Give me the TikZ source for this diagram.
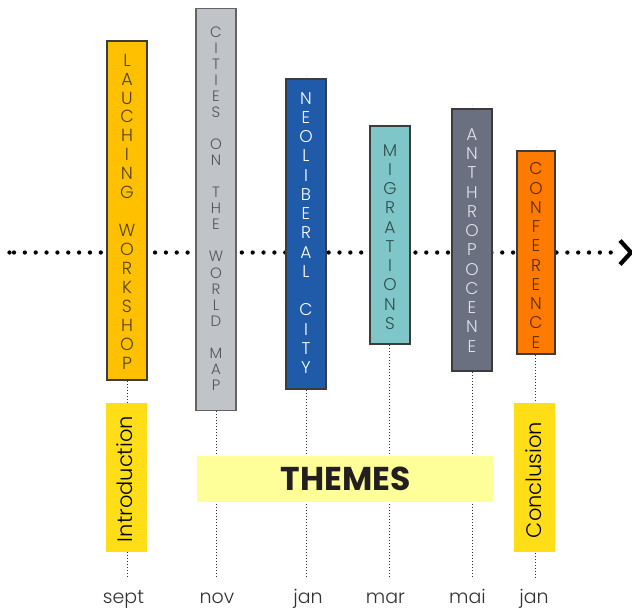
\documentclass[tikz,border=0pt]{standalone}
\usepackage{fontspec}
\setmainfont{Poppins}
\IfFontExistsTF{Poppins-Light.otf}{\newfontfamily\lightfont{Poppins-Light.otf}}{%
  \IfFontExistsTF{Poppins-Light.ttf}{\newfontfamily\lightfont{Poppins-Light.ttf}}{\newfontfamily\lightfont{Poppins}}}
\definecolor{cLaunch}{RGB}{255,192,0}
\definecolor{cCities}{RGB}{192,196,200}
\definecolor{cNeo}{RGB}{31,91,168}
\definecolor{cMigr}{RGB}{127,198,200}
\definecolor{cAnthro}{RGB}{106,112,128}
\definecolor{cConf}{RGB}{255,123,0}
\definecolor{cBox}{RGB}{255,221,23}
\definecolor{cThemes}{RGB}{255,255,153}
\definecolor{cBorder}{RGB}{60,60,60}
\definecolor{tLaunch}{RGB}{80,66,22}
\definecolor{tCities}{RGB}{85,85,85}
\definecolor{tMigr}{RGB}{46,78,80}
\definecolor{tAnthro}{RGB}{224,226,230}
\definecolor{tConf}{RGB}{92,40,0}
\definecolor{tLabel}{RGB}{50,50,50}
\definecolor{tThemes}{RGB}{35,31,32}
\begin{document}
\begin{tikzpicture}[x=1pt,y=-1pt,
  bar/.style={draw=cBorder,line width=1.2pt,minimum width=40pt,inner sep=0pt},
  letters/.style={align=center,inner sep=0pt,font=\lightfont\fontsize{17}{19.25}\selectfont},
  endbox/.style={fill=cBox,minimum width=41pt,minimum height=149pt,inner sep=0pt},
  endtext/.style={rotate=90,inner sep=0pt,font=\lightfont\fontsize{21}{24}\selectfont},
  lbl/.style={anchor=base,inner sep=0pt,text=tLabel,font=\lightfont\fontsize{19}{22}\selectfont},
  vline/.style={draw=black!80,line width=0.9pt,dash pattern=on 0.9pt off 2.1pt},
  axis/.style={line width=4.3pt,line cap=round,dash pattern=on 0pt off 10.85pt},
  chev/.style={line width=4.2pt,miter limit=10}]
\useasboundingbox (0,0) rectangle (632,611);
% axis
\coordinate (axL) at (14,252.5);
\coordinate (axR) at (612,252.5);
\coordinate (axS) at (9.5,252.5);
\coordinate (tip) at (631,252.5);
\fill (axS) circle (2.15pt);
\draw[axis] (axL) -- (axR);
\draw[chev] (tip) ++(-11,-12) -- (tip) -- ++(-11,12);
% bars
\node[bar,fill=cLaunch,minimum height=339pt] (launch) at (127,210.5) {};
\node[bar,fill=cCities,minimum height=402pt,draw=cBorder!80,line width=1.5pt] (cities) at (216,209.5) {};
\node[bar,fill=cNeo,minimum height=310pt] (neo) at (306,234) {};
\node[bar,fill=cMigr,minimum height=218pt] (migr) at (390,235) {};
\node[bar,fill=cAnthro,minimum height=262pt] (anthro) at (472,240) {};
\node[bar,fill=cConf,minimum height=203pt,minimum width=38pt] (conf) at (536,252.5) {};
% bar texts
\node[letters,text=tLaunch,font=\lightfont\fontsize{17.5}{18.93}\selectfont] (launchT) at (127,211.5)
  {L\\A\\U\\C\\H\\I\\N\\G\\\mbox{}\\W\\O\\R\\K\\S\\H\\O\\P};
\node[letters,text=tCities,font=\lightfont\fontsize{15}{16.05}\selectfont] (citiesT) at (216,208.5)
  {C\\I\\T\\I\\E\\S\\\mbox{}\\O\\N\\\mbox{}\\T\\H\\E\\\mbox{}\\W\\O\\R\\L\\D\\\mbox{}\\M\\A\\P};
\node[letters,text=white] (neoT) at (306,233)
  {N\\E\\O\\L\\I\\B\\E\\R\\A\\L\\\mbox{}\\C\\I\\T\\Y};
\node[letters,text=tMigr] (migrT) at (390,237)
  {M\\I\\G\\R\\A\\T\\I\\O\\N\\S};
\node[letters,text=tAnthro] (anthroT) at (472,240.5)
  {A\\N\\T\\H\\R\\O\\P\\O\\C\\E\\N\\E};
\node[letters,text=tConf] (confT) at (536,255.5)
  {C\\O\\N\\F\\E\\R\\E\\N\\C\\E};
% ticks above some bars
\draw[vline] (neo.north) -- ++(0,-3);
\draw[vline] (anthro.north) -- ++(0,-3);
\draw[vline] (conf.north) -- ++(0,-3);
% bottom coordinates of dotted lines
\coordinate (bSept) at (127,578);
\coordinate (bNov) at (216.5,578);
\coordinate (bJan) at (306,578);
\coordinate (bMar) at (389.5,578);
\coordinate (bMai) at (472,578);
\coordinate (bJan2) at (535,578);
\draw[vline] (launch.south) -- (bSept);
\draw[vline] (cities.south -| bNov) -- (bNov);
\draw[vline] (neo.south) -- (bJan);
\draw[vline] (migr.south -| bMar) -- (bMar);
\draw[vline] (anthro.south) -- (bMai);
\draw[vline] (conf.south -| bJan2) -- (bJan2);
% boxes
\node[endbox] (intro) at (126.5,477.5) {};
\node[endtext] (introT) at (124.5,479) {Introduction};
\node[endbox] (concl) at (534.5,477.5) {};
\node[endtext] (conclT) at (533.5,480) {Conclusion};
\node[fill=cThemes,minimum width=296pt,minimum height=46pt,inner sep=0pt] (themes) at (345,479) {};
\node[inner sep=0pt,text=tThemes,font=\fontsize{33}{36}\selectfont\bfseries] (themesT) at (345.5,478.5) {THEMES};
% month labels
\node[lbl] (sept) at (123.5,603.5) {sept};
\node[lbl] (nov) at (217,603.5) {nov};
\node[lbl] (jan) at (308,603.5) {jan};
\node[lbl] (mar) at (385.5,603.5) {mar};
\node[lbl] (mai) at (467.5,603.5) {mai};
\node[lbl] (jan2) at (534,603.5) {jan};
\end{tikzpicture}
\end{document}
